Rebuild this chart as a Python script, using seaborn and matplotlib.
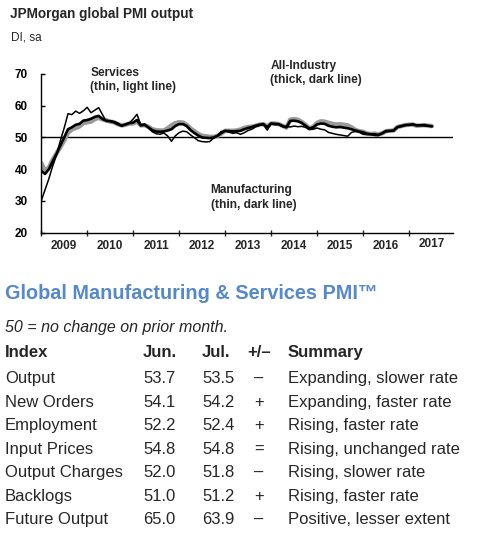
import matplotlib
matplotlib.use("Agg")
import matplotlib.pyplot as plt
import matplotlib.transforms as mtransforms
import seaborn as sns

# months since Jan 2009 (Jan 2009 .. Jul 2017)
months = list(range(103))

all_industry = [39.5, 38.5, 40.0, 42.5, 44.8, 47.5, 50.0, 52.6, 53.2, 54.0, 54.3, 55.3,
                55.5, 55.9, 56.5, 56.8, 55.8, 55.3, 55.1, 54.8, 54.2, 53.7, 54.1, 54.5,
                54.7, 55.5, 53.8, 54.0, 53.2, 52.3, 51.9, 51.8, 51.9, 52.2, 52.6, 53.6,
                54.2, 54.2, 53.6, 52.3, 51.4, 50.6, 50.0, 49.9, 49.8, 50.0, 50.5, 51.4,
                52.1, 52.0, 51.9, 52.0, 52.1, 52.6, 53.0, 53.3, 53.7, 54.0, 54.2, 53.2,
                54.4, 54.3, 54.2, 53.6, 53.2, 55.2, 55.3, 55.1, 54.6, 53.7, 52.8, 53.2,
                54.1, 54.4, 54.3, 53.7, 53.4, 53.2, 53.3, 53.1, 52.9, 52.6, 52.2, 51.9,
                51.6, 51.2, 51.0, 51.0, 50.8, 51.3, 52.0, 52.1, 52.2, 53.3, 53.6, 53.9,
                54.0, 54.1, 53.8, 53.8, 53.9, 53.7, 53.5]

services = [42.0, 39.5, 40.5, 43.0, 45.0, 47.0, 49.0, 51.5, 52.5, 53.0, 53.5, 54.5,
            54.8, 55.0, 55.8, 56.2, 55.7, 55.4, 55.0, 54.8, 54.2, 53.8, 54.0, 54.4,
            54.4, 55.0, 53.8, 53.9, 53.3, 52.6, 52.3, 52.2, 52.2, 52.9, 53.8, 54.5,
            54.8, 54.7, 54.0, 52.8, 52.0, 51.1, 50.5, 50.4, 50.2, 50.2, 50.5, 51.2,
            52.1, 52.1, 52.1, 52.2, 52.5, 53.0, 53.3, 53.4, 53.7, 54.1, 54.2, 53.5,
            54.4, 54.4, 54.2, 53.7, 53.1, 55.6, 55.8, 55.6, 54.9, 54.0, 52.9, 53.3,
            54.6, 55.1, 55.0, 54.6, 54.3, 54.1, 54.2, 54.0, 53.8, 53.2, 52.4, 52.0,
            51.8, 51.3, 51.1, 51.2, 51.0, 51.3, 52.0, 52.1, 52.2, 53.3, 53.6, 53.9,
            54.0, 54.1, 53.7, 53.8, 53.9, 53.7, 53.6]

manufacturing = [30.0, 33.5, 37.0, 41.0, 44.5, 49.0, 53.0, 57.5, 57.2, 58.3, 57.6, 58.4,
                 59.5, 57.8, 58.6, 59.4, 57.2, 55.0, 55.3, 55.0, 54.6, 53.6, 54.2, 54.6,
                 55.8, 57.3, 54.0, 54.2, 53.0, 51.8, 51.2, 51.0, 51.4, 50.5, 48.8, 50.5,
                 51.5, 52.0, 51.8, 50.8, 49.9, 49.0, 48.7, 48.6, 48.7, 49.8, 50.6, 51.9,
                 52.0, 51.7, 51.3, 51.5, 51.0, 51.5, 52.2, 52.6, 53.4, 53.8, 54.1, 52.3,
                 54.3, 54.0, 54.1, 53.4, 53.5, 53.3, 53.6, 53.4, 53.5, 53.2, 52.5, 52.6,
                 53.0, 52.6, 52.4, 51.6, 51.3, 51.0, 50.8, 50.6, 50.4, 51.6, 51.9, 51.7,
                 51.0, 50.9, 51.0, 50.6, 50.6, 51.3, 51.8, 52.0, 52.1, 53.2, 53.4, 53.8,
                 54.0, 54.2, 53.9, 53.9, 53.6, 53.7, 53.5]

years = ["2009", "2010", "2011", "2012", "2013", "2014", "2015", "2016", "2017"]

table_header = ["Index", "Jun.", "Jul.", "+/\u2013", "Summary"]
index_names = ["Output", "New Orders", "Employment", "Input Prices",
               "Output Charges", "Backlogs", "Future Output"]
jun_vals = ["53.7", "54.1", "52.2", "54.8", "52.0", "51.0", "65.0"]
jul_vals = ["53.5", "54.2", "52.4", "54.8", "51.8", "51.2", "63.9"]
changes = ["\u2013", "+", "+", "=", "\u2013", "+", "\u2013"]
summaries = ["Expanding, slower rate", "Expanding, faster rate", "Rising, faster rate",
             "Rising, unchanged rate", "Rising, slower rate", "Rising, faster rate",
             "Positive, lesser extent"]

sns.set_style("ticks")
plt.rcParams['font.family'] = ['Liberation Sans', 'DejaVu Sans']

W, H = 491, 536
fig = plt.figure(figsize=(W / 100, H / 100), dpi=100)
ax = fig.add_axes([41.2 / W, 1 - 232.7 / H, (453 - 41.2) / W, (232.7 - 74) / H])

sns.lineplot(x=months, y=services, ax=ax, color="#9a9a9a", linewidth=3.2, zorder=2)
sns.lineplot(x=months, y=all_industry, ax=ax, color="black", linewidth=1.9, zorder=3)
sns.lineplot(x=months, y=manufacturing, ax=ax, color="black", linewidth=1.1, zorder=4)
ax.axhline(50, color="black", linewidth=1.0, zorder=1)

ax.set_xlim(0, 107.5)
ax.set_ylim(20, 70)
ax.set_yticks([20, 30, 40, 50, 60, 70])
ax.set_xticks(range(0, 97, 12))
ax.set_xticklabels([])
ax.set_xticks([6 + 12 * i for i in range(8)] + [102], minor=True)
ax.set_xticklabels(years, minor=True)
ax.tick_params(axis="y", direction="in", length=3, width=1, pad=9.5,
               labelsize=8.5, colors="black")
ax.tick_params(axis="x", which="major", direction="inout", length=5, width=1)
ax.tick_params(axis="x", which="minor", length=0, pad=5.5, labelsize=8.5)
for lab in ax.get_yticklabels() + ax.get_xticklabels(minor=True):
    lab.set_fontweight("bold")
# the 2017 label sits a little higher in the original
last = ax.get_xticklabels(minor=True)[-1]
last.set_transform(last.get_transform() +
                   mtransforms.ScaledTranslation(0, 2 / 72, fig.dpi_scale_trans))
for side in ["top", "right"]:
    ax.spines[side].set_visible(False)
for side in ["left", "bottom"]:
    ax.spines[side].set_linewidth(1.0)
    ax.spines[side].set_color("black")
ax.set_xlabel("")
ax.set_ylabel("")

ax.text(12.8, 72.3, "Services\n(thin, light line)", fontsize=8.6, fontweight="bold",
        va="top", ha="left", linespacing=1.25)
ax.text(59.8, 74.4, "All-Industry\n(thick, dark line)", fontsize=8.6, fontweight="bold",
        va="top", ha="left", linespacing=1.25)
ax.text(44.2, 35.2, "Manufacturing\n(thin, dark line)", fontsize=8.6, fontweight="bold",
        va="top", ha="left", linespacing=1.25)

fig.text(10 / W, 1 - 18 / H, "JPMorgan global PMI output", fontsize=9.8,
         fontweight="bold", va="baseline")
fig.text(11 / W, 1 - 40 / H, "DI, sa", fontsize=8.5, va="baseline")

fig.text(5 / W, 1 - 299 / H, "Global Manufacturing & Services PMI\u2122", fontsize=14.3,
         fontweight="bold", color="#5588cc", va="baseline")
fig.text(5 / W, 1 - 332 / H, "50 = no change on prior month.", fontsize=11.5,
         style="italic", va="baseline")

col_x = [5, 143, 202, 259, 288]
col_ha = ["left", "left", "left", "center", "left"]
for x, ha, txt in zip(col_x, col_ha, table_header):
    fig.text(x / W, 1 - 357 / H, txt, fontsize=12, fontweight="bold", ha=ha, va="baseline")

for i in range(len(index_names)):
    y = 1 - (383.3 + i * 23.45) / H
    row = [index_names[i], jun_vals[i], jul_vals[i], changes[i], summaries[i]]
    for x, ha, txt in zip(col_x, col_ha, row):
        fig.text(x / W, y, txt, fontsize=12, ha=ha, va="baseline")

fig.savefig("out.png", dpi=100)
